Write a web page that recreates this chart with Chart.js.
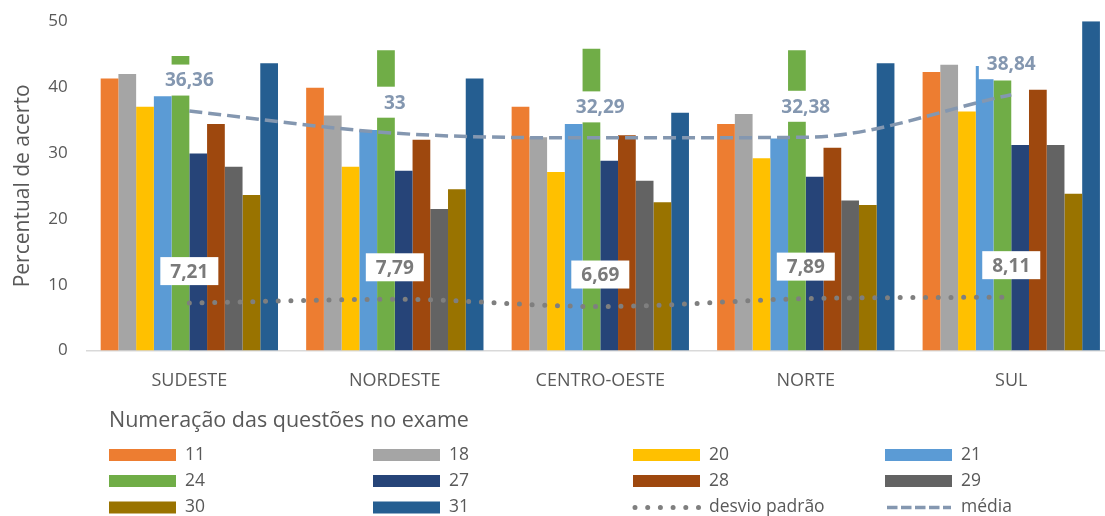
<!DOCTYPE html>
<html lang="pt">
<head>
<meta charset="utf-8">
<title>Percentual de acerto por região</title>
<script src="https://cdn.jsdelivr.net/npm/chart.js@4/dist/chart.umd.min.js"></script>
<style>
  html, body { margin: 0; padding: 0; background: #fff; }
  #wrap { width: 1105px; height: 516px; overflow: hidden; position: relative; }
  canvas { display: block; }
</style>
</head>
<body>
<div id="wrap">
  <canvas id="chart" width="1120" height="516"></canvas>
</div>
<script>
// Regiões e percentual de acerto por questão
const categorias = ['SUDESTE', 'NORDESTE', 'CENTRO-OESTE', 'NORTE', 'SUL'];
const q11 = [41.3, 39.9, 37.0, 34.4, 42.3];
const q18 = [42.0, 35.7, 32.4, 35.9, 43.4];
const q20 = [37.0, 27.9, 27.1, 29.2, 36.3];
const q21 = [38.6, 33.5, 34.4, 32.2, 43.2];
const q24 = [44.7, 45.6, 45.8, 45.6, 41.0];
const q27 = [29.9, 27.3, 28.8, 26.4, 31.2];
const q28 = [34.4, 32.0, 32.7, 30.8, 39.6];
const q29 = [27.9, 21.5, 25.8, 22.8, 31.2];
const q30 = [23.6, 24.5, 22.5, 22.1, 23.8];
const q31 = [43.6, 41.3, 36.1, 43.6, 50.0];
const desvioPadrao = [7.21, 7.79, 6.69, 7.89, 8.11];
const media = [36.36, 33, 32.29, 32.38, 38.84];
const yTicks = [0, 10, 20, 30, 40, 50];

const FONT = "'Open Sans', 'Noto Sans', sans-serif";
const TEXT_COLOR = '#595959';

const barras = [
  { label: '11', data: q11, color: '#ED7D31' },
  { label: '18', data: q18, color: '#A5A5A5' },
  { label: '20', data: q20, color: '#FFC000' },
  { label: '21', data: q21, color: '#5B9BD5' },
  { label: '24', data: q24, color: '#70AD47' },
  { label: '27', data: q27, color: '#264478' },
  { label: '28', data: q28, color: '#9E480E' },
  { label: '29', data: q29, color: '#636363' },
  { label: '30', data: q30, color: '#997300' },
  { label: '31', data: q31, color: '#255E91' }
];

const datasets = barras.map(b => ({
  type: 'bar',
  label: b.label,
  data: b.data,
  backgroundColor: b.color,
  borderWidth: 0,
  order: 1
}));

datasets.push({
  type: 'line',
  label: 'desvio padrão',
  data: desvioPadrao,
  borderColor: '#7F7F7F',
  borderWidth: 5,
  borderDash: [0, 12.7],
  borderCapStyle: 'round',
  cubicInterpolationMode: 'monotone',
  pointRadius: 0,
  fill: false,
  order: 0,
  labelColor: '#7A7A7A',
  labelBox: { w: 20, h: 28, dy: 32 }
});

datasets.push({
  type: 'line',
  label: 'média',
  data: media,
  borderColor: '#8497B0',
  borderWidth: 3.5,
  borderDash: [13, 6],
  cubicInterpolationMode: 'monotone',
  pointRadius: 0,
  fill: false,
  order: 0,
  labelColor: '#8497B0',
  labelBox: { w: 16, h: 31, dy: 31 }
});

// Rótulos de valor com fundo branco acima das linhas
const rotulosLinhas = {
  id: 'rotulosLinhas',
  afterDatasetsDraw(chart) {
    const ctx = chart.ctx;
    ctx.save();
    ctx.font = 'bold 19px ' + FONT;
    ctx.textAlign = 'center';
    ctx.textBaseline = 'middle';
    chart.data.datasets.forEach((ds, i) => {
      if (ds.type !== 'line') return;
      const meta = chart.getDatasetMeta(i);
      const box = ds.labelBox;
      meta.data.forEach((pt, j) => {
        const txt = String(ds.data[j]).replace('.', ',');
        const w = ctx.measureText(txt).width + box.w;
        const cy = pt.y - box.dy;
        ctx.fillStyle = '#ffffff';
        ctx.fillRect(pt.x - w / 2, cy - box.h / 2, w, box.h);
        ctx.fillStyle = ds.labelColor;
        ctx.fillText(txt, pt.x, cy + 1);
      });
    });
    ctx.restore();
  }
};

// Legenda em grade de quatro colunas, com título
const legendaGrade = {
  id: 'legendaGrade',
  afterDraw(chart) {
    const ctx = chart.ctx;
    const colunas = [109, 373, 633, 885];
    const linhas = [455, 481, 507.5];
    ctx.save();
    ctx.fillStyle = TEXT_COLOR;
    ctx.font = '21.5px ' + FONT;
    ctx.textAlign = 'left';
    ctx.textBaseline = 'middle';
    ctx.fillText('Numeração das questões no exame', 109, 421);

    ctx.font = '17.5px ' + FONT;
    chart.data.datasets.forEach((ds, i) => {
      const x = colunas[i % 4];
      const y = linhas[Math.floor(i / 4)];
      if (ds.type === 'bar') {
        ctx.fillStyle = ds.backgroundColor;
        ctx.fillRect(x, y - 6, 67, 12);
      } else {
        const pontilhado = ds.borderCapStyle === 'round';
        ctx.save();
        ctx.strokeStyle = ds.borderColor;
        ctx.lineWidth = pontilhado ? 5 : 3.5;
        ctx.lineCap = pontilhado ? 'round' : 'butt';
        ctx.setLineDash(pontilhado ? [0, 12.7] : [10.5, 3.5]);
        ctx.beginPath();
        ctx.moveTo(x + 2, y);
        ctx.lineTo(x + 66, y);
        ctx.stroke();
        ctx.restore();
      }
      ctx.fillStyle = TEXT_COLOR;
      ctx.fillText(ds.label, x + 76, y);
    });
    ctx.restore();
  }
};

new Chart(document.getElementById('chart'), {
  type: 'bar',
  data: { labels: categorias, datasets: datasets },
  plugins: [rotulosLinhas, legendaGrade],
  options: {
    responsive: false,
    devicePixelRatio: 1,
    animation: false,
    layout: { padding: { top: 19, right: 6, bottom: 0, left: 0 } },
    datasets: {
      bar: { categoryPercentage: 0.863, barPercentage: 1 }
    },
    plugins: {
      legend: { display: false },
      tooltip: { enabled: false }
    },
    scales: {
      x: {
        grid: { display: false },
        border: { display: true, color: '#D9D9D9', width: 1.5 },
        ticks: { color: TEXT_COLOR, font: { family: FONT, size: 18 }, padding: 11, maxRotation: 0 },
        afterFit(scale) { scale.height = 165.4; }
      },
      y: {
        min: yTicks[0],
        max: yTicks[yTicks.length - 1],
        grid: { display: false },
        border: { display: false },
        ticks: { stepSize: yTicks[1] - yTicks[0], color: TEXT_COLOR, font: { family: FONT, size: 17 }, padding: 11 },
        title: {
          display: true,
          text: 'Percentual de acerto',
          color: TEXT_COLOR,
          font: { family: FONT, size: 21 },
          padding: { top: 10, bottom: 0 }
        },
        afterFit(scale) { scale.width = 86.6; }
      }
    }
  }
});
</script>
</body>
</html>
